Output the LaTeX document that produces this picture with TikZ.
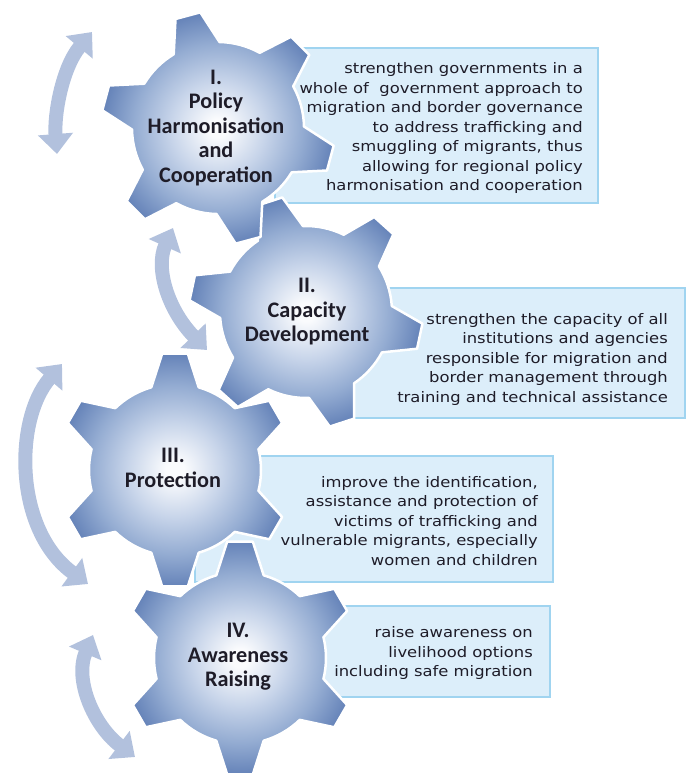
\documentclass[tikz,border=0pt]{standalone}
\usepackage{fontspec}
\setmainfont{DejaVu Sans}
\newfontfamily\descfont{DejaVu Sans}[FakeStretch=1.13]
\newfontfamily\gearfont{Carlito}
\usetikzlibrary{arrows.meta,calc}
\definecolor{gA}{RGB}{250,251,253}
\definecolor{gB}{RGB}{200,213,234}
\definecolor{gC}{RGB}{148,172,210}
\definecolor{gD}{RGB}{100,130,184}
\definecolor{boxfill}{RGB}{220,238,250}
\definecolor{boxline}{RGB}{160,212,240}
\definecolor{arrowc}{RGB}{178,193,221}
\definecolor{txt}{RGB}{30,28,40}
\pgfdeclareradialshading{gearshade}{\pgfpoint{0bp}{0bp}}{color(0bp)=(gA); color(2bp)=(gA); color(10bp)=(gB); color(18bp)=(gC); color(25bp)=(gD); color(50bp)=(gD)}
\tikzset{
  boxst/.style={fill=boxfill, draw=boxline, line width=1.8pt},
  desc/.style={align=right, text=txt, font=\descfont\fontsize{14.5}{19.5}\selectfont, inner sep=0pt},
  geartext/.style={align=center, text=txt, font=\gearfont\bfseries\fontsize{22.2}{24.5}\selectfont, inner sep=0pt},
  gearedge/.style={draw=white, line width=2.5pt, line join=round},
  cyc/.style={draw=arrowc, line width=14pt, arrows={Triangle[width=34pt,length=20pt]-Triangle[width=34pt,length=20pt]}}
}
\newcommand\drawgear[2]{%
  \draw[gearedge, path picture={\shade[shading=gearshade] (#1) circle (117);}]
   ($(#1)+(#2-16:86)$) \foreach \k in {0,...,5}{
     -- ($(#1)+(#2+\k*60-6.3:117)$) -- ($(#1)+(#2+\k*60+6.3:117)$) -- ($(#1)+(#2+\k*60+16:86)$)
     arc[start angle=#2+\k*60+16, end angle=#2+\k*60+44, radius=86] } -- cycle;}
\begin{document}
\begin{tikzpicture}[x=1pt,y=-1pt]
\useasboundingbox (0,0) rectangle (688,774);
% text boxes
\draw[boxst] (275,48) rectangle (598,203);
\draw[boxst] (350,288) rectangle (685,418);
\draw[boxst] (195,456) rectangle (553,582);
\draw[boxst] (320,606) rectangle (550,697);
% gear centres
\coordinate (g1) at (218,128);
\coordinate (g2) at (306,312);
\coordinate (g3) at (175,470);
\coordinate (g4) at (240,658);
\drawgear{g4}{30}
\drawgear{g3}{30}
\drawgear{g2}{12}
\drawgear{g1}{15}
% gear labels
\node[geartext] (t1) at (216,128) {I.\\Policy\\Harmonisation\\and\\Cooperation};
\node[geartext] (t2) at (307,312) {II.\\Capacity\\Development};
\node[geartext] (t3) at (173,468) {III.\\Protection};
\node[geartext] (t4) at (238,657) {IV.\\Awareness\\Raising};
% descriptions
\node[desc, anchor=east] (d1) at (583,128) {strengthen governments in a\\whole of\ \ government approach to\\migration and border governance\\to address trafficking and\\smuggling of migrants, thus\\allowing for regional policy\\harmonisation and cooperation};
\node[desc, anchor=east] (d2) at (668,359) {strengthen the capacity of all\\institutions and agencies\\responsible for migration and\\border management through\\training and technical assistance};
\node[desc, anchor=east] (d3) at (538,521) {improve the identification,\\assistance and protection of\\victims of trafficking and\\vulnerable migrants, especially\\women and children};
\node[desc, anchor=east] (d4) at (533,653) {raise awareness on\\livelihood options\\including safe migration};
% cycle arrows
\coordinate (a1s) at (92,32);  \coordinate (a1e) at (57,154);
\coordinate (a2s) at (173,228); \coordinate (a2e) at (207,350);
\coordinate (a3s) at (62,364);  \coordinate (a3e) at (88,584);
\coordinate (a4s) at (93,635);  \coordinate (a4e) at (135,757);
\draw[cyc] (a1s) .. controls (62,68) and (54,115) .. (a1e);
\draw[cyc] (a2s) .. controls (155,268) and (168,310) .. (a2e);
\draw[cyc] (a3s) .. controls (14,420) and (14,530) .. (a3e);
\draw[cyc] (a4s) .. controls (74,680) and (94,726) .. (a4e);
\end{tikzpicture}
\end{document}
